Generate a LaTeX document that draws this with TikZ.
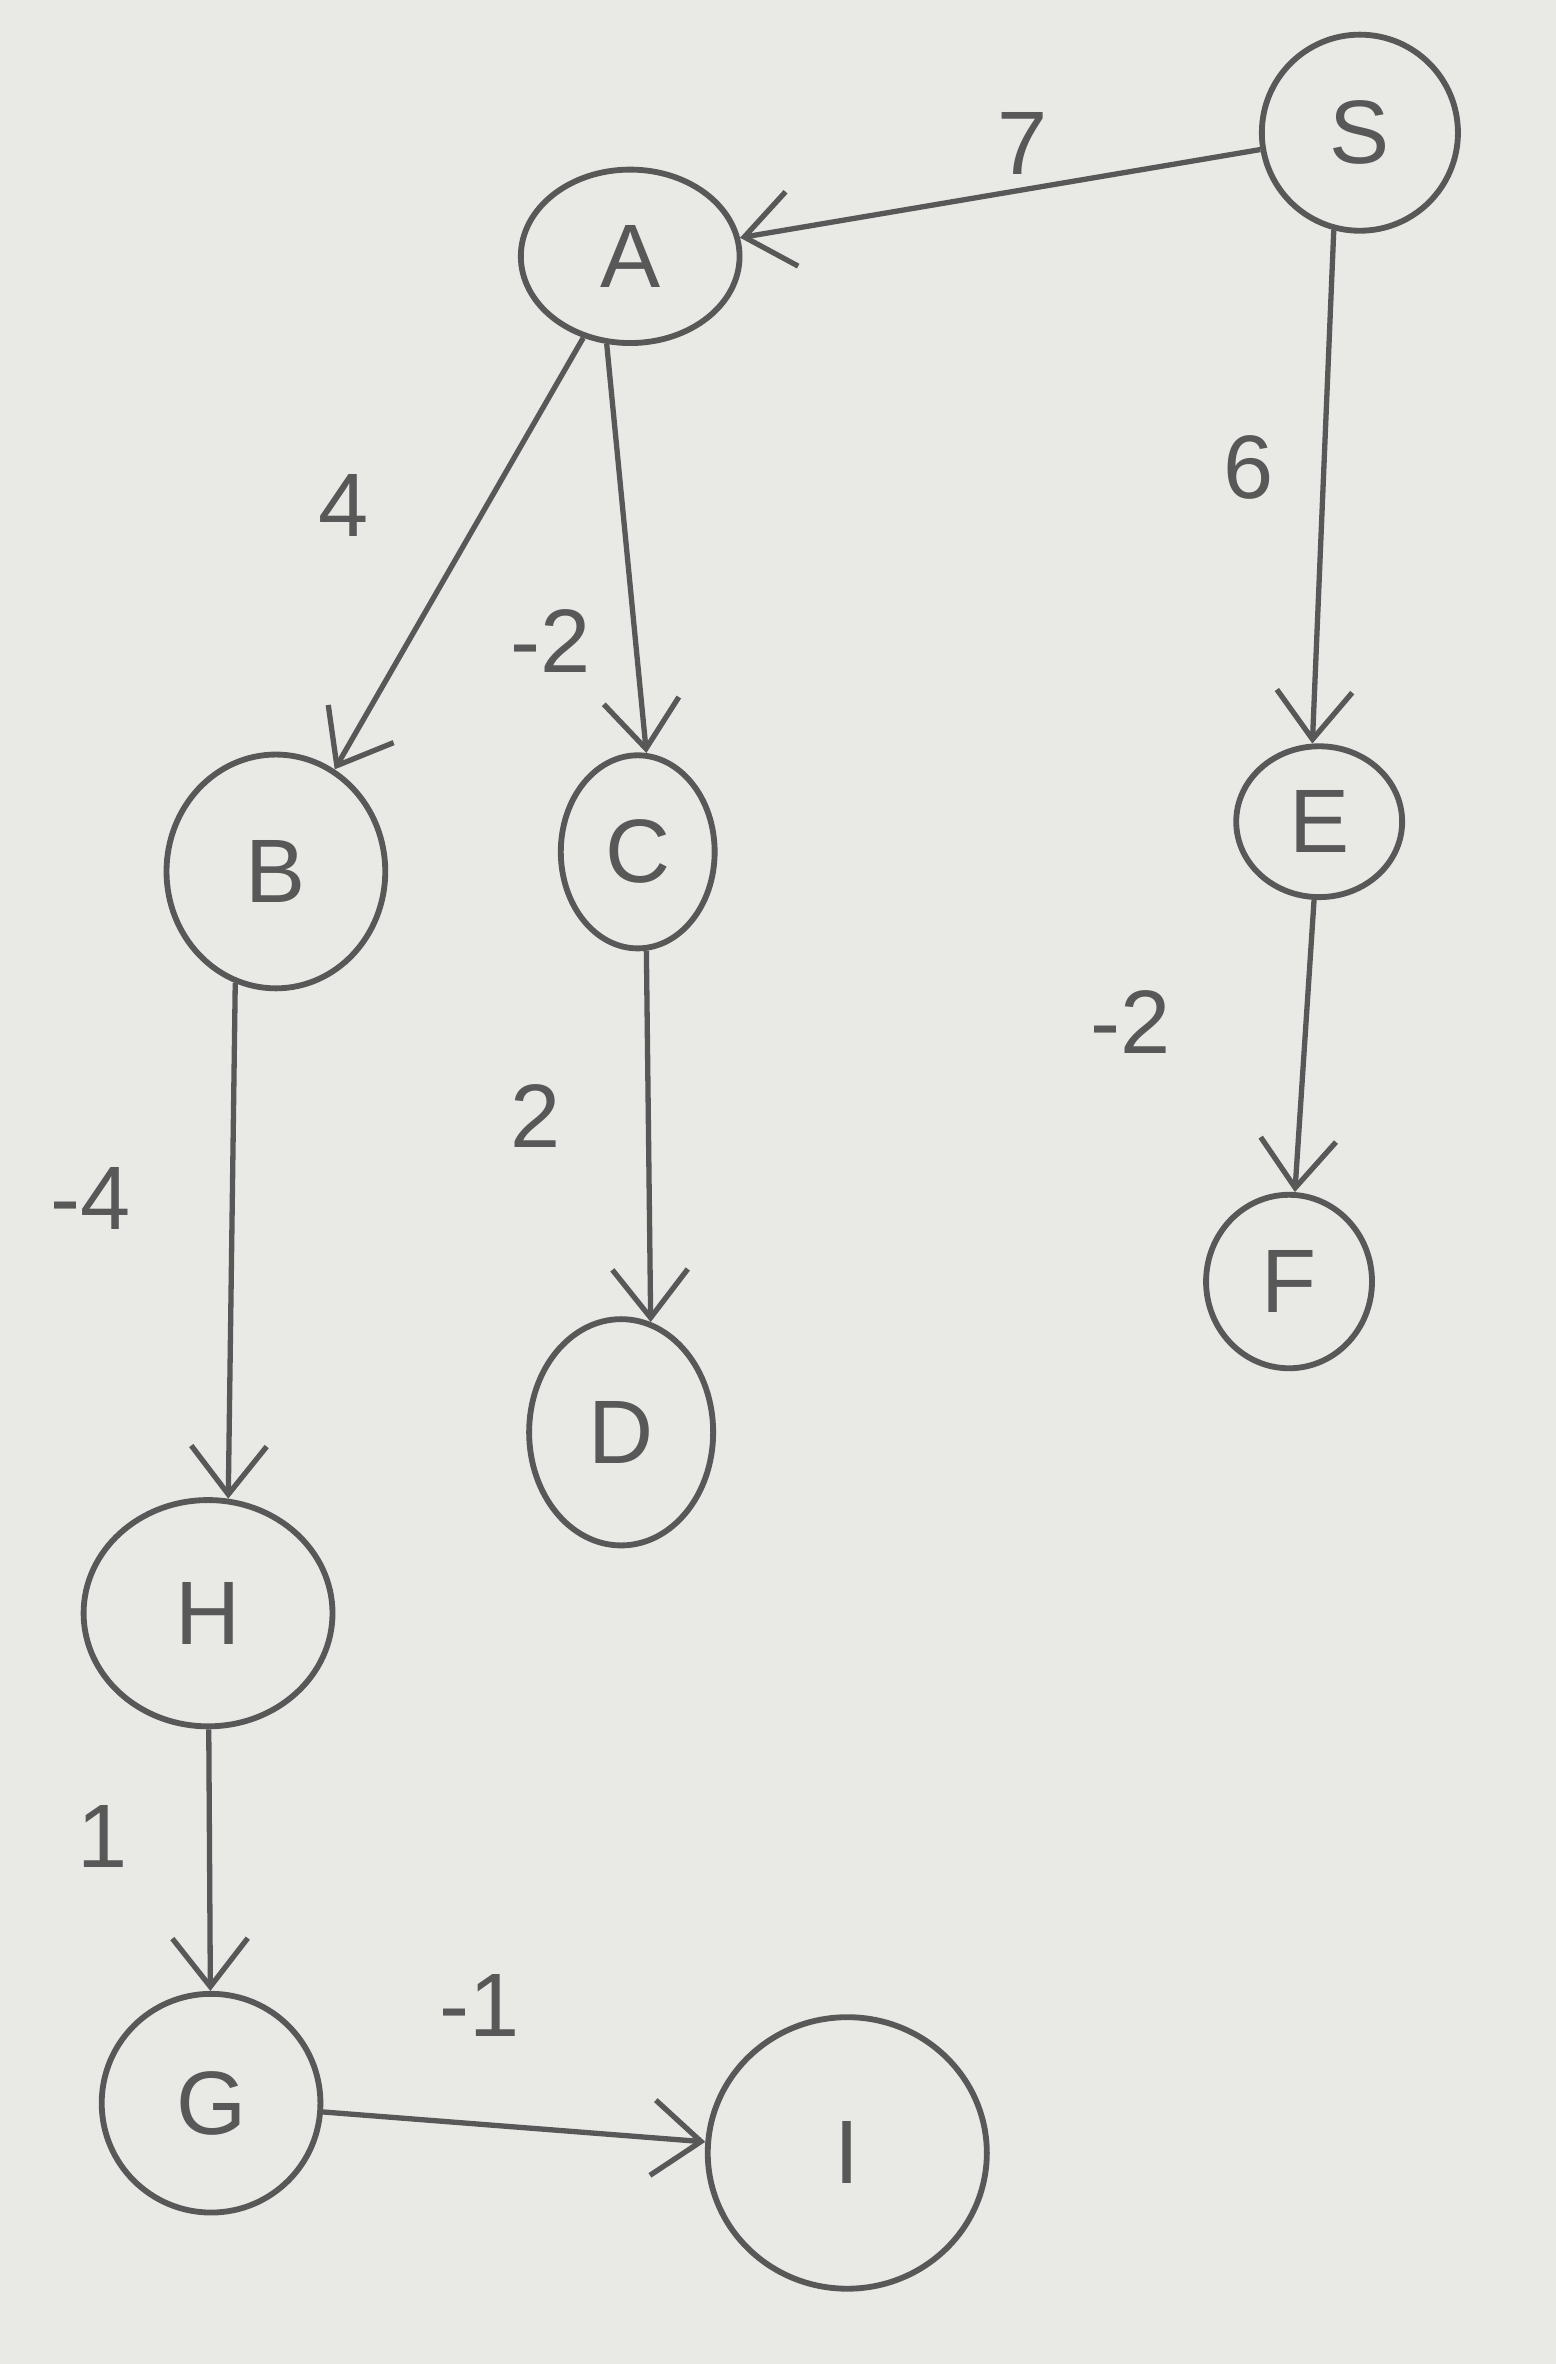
\documentclass[tikz,border=0pt]{standalone}
\usepackage{fontspec}
\setmainfont{Liberation Sans}
\usetikzlibrary{shapes.geometric, arrows.meta}

\definecolor{papel}{RGB}{233,233,229}
\definecolor{lapiz}{RGB}{88,88,88}

\tikzset{
    vertice/.style={ellipse, draw=lapiz, line width=1.1pt, inner sep=0pt,
        text=lapiz, font=\fontsize{17}{19}\selectfont},
    peso/.style={text=lapiz, font=\fontsize{17}{19}\selectfont},
    flecha/.style={draw=lapiz, line width=1pt,
        -{Straight Barb[length=3.2mm, width=5mm]}}
}

\begin{document}
\begin{tikzpicture}[x=0.01cm, y=-0.01cm]

    % Fondo de papel
    \fill[papel] (0,0) rectangle (1032,1568);

    % Vértices del grafo
    \foreach \n/\x/\y/\w/\h in {S/902/88/1.3/1.3, A/418/170/1.45/1.15,
        B/183/578/1.45/1.55, C/423/565/1.02/1.28, D/412/950/1.22/1.5,
        E/875/545/1.1/1.0, F/855/850/1.1/1.15, H/138/1070/1.65/1.5,
        G/140/1395/1.45/1.45, I/562/1428/1.85/1.8} {
        \node[vertice, minimum width=\w cm, minimum height=\h cm] (\n) at (\x,\y) {\n};
    }

    % Aristas dirigidas
    \foreach \a/\b in {S/A, S.255/E.95, A/B, A.255/C.85, C.275/D.75, E/F,
        B.250/H.80, H/G, G/I} {
        \draw[flecha] (\a) -- (\b);
    }

    % Pesos de las aristas
    \node[peso] (pSA) at (678,95) {7};
    \node[peso] (pAB) at (228,335) {4};
    \node[peso] (pAC) at (365,425) {-2};
    \node[peso] (pSE) at (828,310) {6};
    \node[peso] (pEF) at (750,678) {-2};
    \node[peso] (pCD) at (355,740) {2};
    \node[peso] (pBH) at (60,795) {-4};
    \node[peso] (pHG) at (68,1218) {1};
    \node[peso] (pGI) at (318,1330) {-1};
\end{tikzpicture}
\end{document}
